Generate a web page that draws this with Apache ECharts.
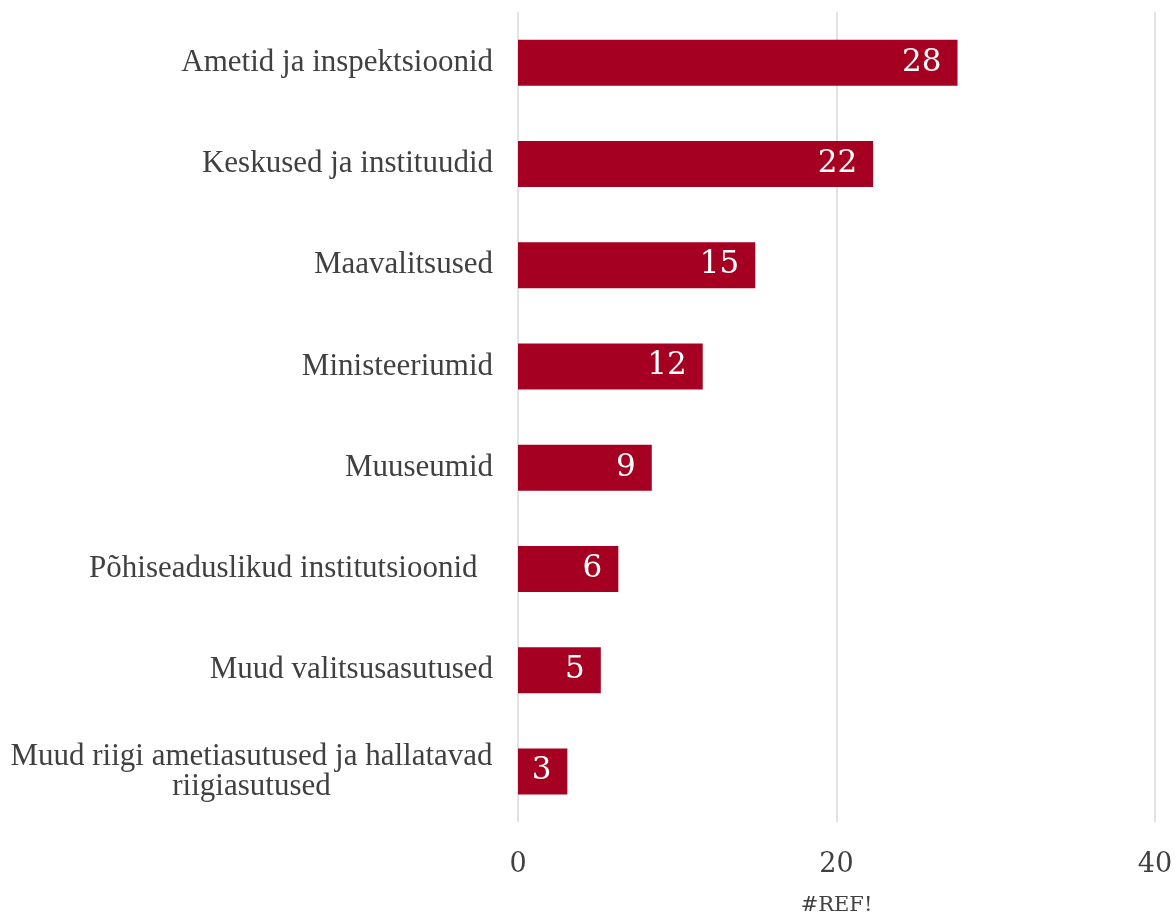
<!DOCTYPE html>
<html><head><meta charset="utf-8">
<script src="https://cdn.jsdelivr.net/npm/echarts@6/dist/echarts.min.js"></script>
<style>html,body{margin:0;padding:0;background:#fff}#c{width:1176px;height:913px}</style>
</head><body><div id="c"></div>
<script>
const categories = [
  "Ametid ja inspektsioonid",
  "Keskused ja instituudid",
  "Maavalitsused",
  "Ministeeriumid",
  "Muuseumid",
  "Põhiseaduslikud institutsioonid  ",
  "Muud valitsusasutused",
  "Muud riigi ametiasutused ja hallatavad\nriigiasutused"
];
const values = [27.6, 22.3, 14.9, 11.6, 8.4, 6.3, 5.2, 3.1];
const valueLabels = [28, 22, 15, 12, 9, 6, 5, 3];
const axisName = "#REF!";

const font = "'Liberation Serif', 'DejaVu Serif', serif";
const font2 = "'DejaVu Serif', serif";
const chart = echarts.init(document.getElementById('c'));
chart.setOption({
  animation: false,
  grid: { left: 518, right: 21, top: 12, bottom: 91, containLabel: false, outerBoundsMode: 'none' },
  xAxis: {
    type: 'value', min: 0, max: 40, interval: 20,
    axisLine: { show: false }, axisTick: { show: false },
    splitLine: { show: true, lineStyle: { color: '#D9D9D9', width: 1.5 } },
    axisLabel: { color: '#404040', fontFamily: font2, fontSize: 27, margin: 29 },
    name: axisName, nameLocation: 'middle', nameGap: 73,
    nameTextStyle: { color: '#404040', fontFamily: font2, fontSize: 21 }
  },
  yAxis: {
    type: 'category', data: categories, inverse: true,
    axisLine: { show: false }, axisTick: { show: false },
    axisLabel: {
      color: '#404040', fontFamily: font, fontSize: 31, margin: 25, align: 'right', lineHeight: 30,
      formatter: v => v.indexOf('\n') < 0 ? v : v.split('\n').map(l => '{c|' + l + '}').join('\n'),
      rich: { c: { width: 483, align: 'center', fontFamily: font, fontSize: 31, color: '#404040', lineHeight: 30 } }
    }
  },
  series: [{
    type: 'bar', data: values, barWidth: 46,
    itemStyle: { color: '#A50021' },
    label: { show: true, position: 'insideRight', distance: 16, color: '#fff', fontFamily: font2, fontSize: 31,
      formatter: p => valueLabels[p.dataIndex] }
  }]
});
</script></body></html>
